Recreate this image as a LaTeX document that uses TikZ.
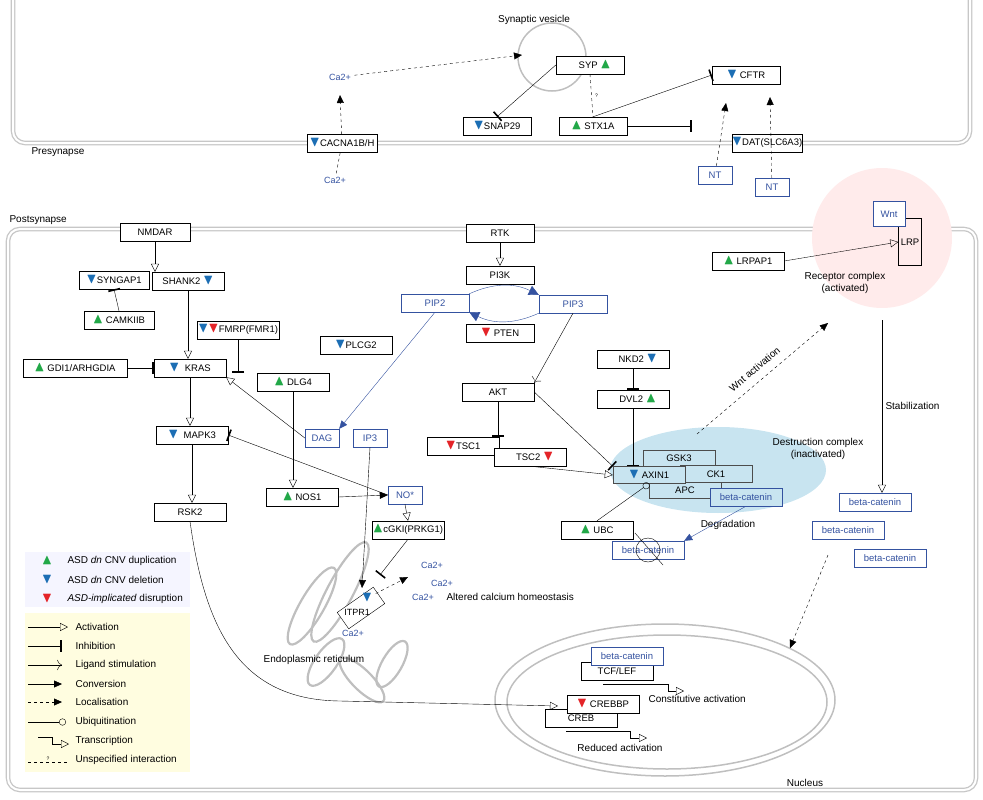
\documentclass[tikz,border=0pt]{standalone}
\usepackage{amsmath,amssymb}
\usepackage{fontspec}
\setmainfont{Liberation Sans}
\usetikzlibrary{arrows.meta,positioning,calc,shapes.geometric}
\definecolor{asdgreen}{RGB}{34,168,72}
\definecolor{asdblue}{RGB}{28,110,180}
\definecolor{asdred}{RGB}{228,36,40}
\definecolor{molblue}{RGB}{52,82,160}
\definecolor{dcblue}{RGB}{200,228,240}
\newcommand\gup{\textcolor{asdgreen}{\Large$\blacktriangle$}}
\newcommand\gdn{\textcolor{asdblue}{\Large$\blacktriangledown$}}
\newcommand\grd{\textcolor{asdred}{\Large$\blacktriangledown$}}
\tikzset{
  gene/.style={draw,fill=white,minimum width=72,minimum height=18,inner sep=1pt,font=\fontsize{9.5}{10}\selectfont},
  mol/.style={gene,draw=molblue,text=molblue,minimum width=34},
  lbl/.style={font=\fontsize{10}{12}\selectfont,align=center},
  ion/.style={text=molblue,font=\fontsize{9}{10}\selectfont},
  membrane/.style={draw=black!22,double=white,double distance=2pt,line width=1.3pt,rounded corners=12},
  act/.style={-{Triangle[open,length=8pt,width=8pt]}},
  inh/.style={-{Bar[width=12pt,line width=1.6pt]}},
  lig/.style={-{To[length=5pt]}},
  conv/.style={-{Triangle[length=8pt,width=7pt]}},
  loc/.style={dashed,-{Triangle[length=8pt,width=7pt]}},
  ubi/.style={-{Circle[open,length=7pt]}},
  er/.style={draw=black!25,line width=2.2pt},
}
\begin{document}
\begin{tikzpicture}[x=1pt,y=-1pt]
        \useasboundingbox (0,0) rectangle (983,800);
        % Membranes
        \draw[membrane] (13,-5) -- (13,143) -- (970,143) -- (970,-5);
        \draw[membrane] (8,229) rectangle (976,790);
        \node[lbl,anchor=west] at (28,152) {Presynapse};
        \node[lbl,anchor=west] at (6,220) {Postsynapse};

        % Legend
        \fill[blue!4] (25,552) rectangle (190,607);
        \fill[yellow!12] (25,613) rectangle (190,772);
        \node[lbl,anchor=west] (lg1) at (64,561) {ASD \textit{dn} CNV duplication};
        \node[lbl,anchor=west] (lg2) at (64,580) {ASD \textit{dn} CNV deletion};
        \node[lbl,anchor=west] (lg3) at (64,599) {\textit{ASD-implicated} disruption};
        \node at (47,561) {\gup};
        \node at (47,580) {\gdn};
        \node at (47,599) {\grd};
        \foreach \y/\t in {627/Activation,646/Inhibition,665/Ligand stimulation,684/Conversion,702/Localisation,722/Ubiquitination,741/Transcription,760/Unspecified interaction}
          \node[lbl,anchor=west] at (72,\y) {\t};
        \coordinate (la1) at (28,627); \coordinate (lb1) at (68,627);
        \coordinate (la2) at (28,646); \coordinate (lb2) at (62,646);
        \coordinate (la3) at (28,665); \coordinate (lb3) at (62,665);
        \coordinate (la4) at (28,684); \coordinate (lb4) at (62,684);
        \coordinate (la5) at (28,702); \coordinate (lb5) at (62,702);
        \coordinate (la6) at (28,722); \coordinate (lb6) at (66,722);
        \draw[act] (la1) -- (lb1);
        \draw[inh] (la2) -- (lb2);
        \draw[lig] (la3) -- (lb3);
        \draw[conv] (la4) -- (lb4);
        \draw[loc] (la5) -- (lb5);
        \draw[ubi] (la6) -- (lb6);
        \draw[act] (38,737) -- (52,737) -- (52,744) -- (69,744);
        \draw[dashed] (28,762) -- (68,762) node[midway,above=-2pt,font=\tiny] {?};

        % Presynapse
        \draw[draw=black!25,line width=1.5pt] (552,57) circle (34);
        \node[lbl] (sv) at (534,20) {Synaptic vesicle};
        \node[gene,minimum width=70] (cacna) at (342,143) {\gdn CACNA1B/H};
        \node[ion] (ca1) at (340,77) {Ca2+};
        \node[ion] (ca0) at (335,180) {Ca2+};
        \coordinate (cau) at (340,95);
        \coordinate (svin) at (522,55);
        \node[gene,minimum width=68] (syp) at (590,65) {\quad SYP \gup};
        \node[gene,minimum width=68] (snap) at (497,126) {\gdn SNAP29};
        \node[gene,minimum width=68] (stx) at (593,126) {\gup\ STX1A\quad};
        \node[gene,minimum width=68] (cftr) at (746,75) {\gdn\ CFTR\quad};
        \node[gene,minimum width=68,inner sep=0pt] (dat) at (767,143) {\gdn DAT(SLC6A3)};
        \node[mol] (nt1) at (715,175) {NT};
        \node[mol] (nt2) at (772,187) {NT};
        \coordinate (nt1e) at (726,103);
        \coordinate (nt2e) at (770,97);
        \coordinate (datbar) at (692,126);
        \draw[dashed] (ca0) -- (cacna);
        \draw[loc] (cacna) -- (cau);
        \draw[loc] (ca1) -- (svin);
        \draw[inh] (syp.west) -- (snap.north);
        \draw[dashed] (syp.south) -- (stx.north) node[midway,right,font=\tiny] {?};
        \draw[inh] (stx.north) -- (cftr.west);
        \draw[inh] (stx.east) -- (datbar);
        \draw[loc] (nt1) -- (nt1e);
        \draw[loc] (nt2) -- (nt2e);

        % Wnt receptor complex
        \fill[red!8] (882,238) circle (70);
        \node[gene,fill=none,minimum width=23,minimum height=47] (lrp) at (910,242) {LRP};
        \node[mol,minimum width=32,minimum height=25,fill=white] (wnt) at (889,214) {Wnt};
        \node[gene] (lrpap) at (748,261) {\gup\ LRPAP1};
        \node[lbl] (rc) at (845,283) {Receptor complex\\(activated)};
        \draw[act] (lrpap.east) -- (lrp.west);

        % Postsynapse nodes
        \node[gene,minimum width=70] (nmdar) at (155,232) {NMDAR};
        \node[gene,minimum width=70] (syngap) at (114,280) {\gdn SYNGAP1};
        \node[gene] (shank) at (188,281) {SHANK2 \gdn};
        \node[gene,minimum width=70] (camk) at (119,320) {\gup\ CAMKIIB};
        \node[gene,minimum width=104] (gdi) at (75,368) {\gup\ GDI1/ARHGDIA};
        \node[gene] (kras) at (190,368) {\gdn\ \ KRAS};
        \node[gene,minimum width=80] (fmrp) at (238,330) {\gdn\grd FMRP(FMR1)};
        \node[gene] (dlg4) at (293,382) {\gup\ DLG4};
        \node[gene] (plcg) at (356,345) {\gdn PLCG2};
        \node[gene] (mapk) at (192,435) {\gdn\ \ MAPK3};
        \node[gene] (rsk) at (190,512) {RSK2};
        \node[gene] (nos) at (302,497) {\gup\ NOS1};
        \node[mol] (no) at (405,495) {NO*};
        \node[gene,inner sep=0pt] (cgki) at (408,530) {\gup cGKI(PRKG1)};
        \node[mol] (dag) at (322,438) {DAG};
        \node[mol] (ip3) at (370,438) {IP3};
        \node[gene,minimum width=68] (rtk) at (500,233) {RTK};
        \node[gene,minimum width=68] (pi3k) at (500,275) {PI3K};
        \node[mol,minimum width=68] (pip2) at (435,303) {PIP2};
        \node[mol,minimum width=68] (pip3) at (573,304) {PIP3};
        \node[gene,minimum width=68] (pten) at (500,333) {\grd\ PTEN};
        \node[gene] (akt) at (498,392) {AKT};
        \node[gene] (tsc1) at (463,446) {\grd TSC1\quad};
        \node[gene] (tsc2) at (530,457) {\quad TSC2 \grd};
        \node[gene] (nkd) at (633,359) {\quad NKD2 \gdn};
        \node[gene] (dvl) at (633,399) {\quad DVL2 \gup};

        % Destruction complex
        \fill[dcblue] (718,470) ellipse (108 and 43);
        \node[gene,fill=dcblue,draw=black!70,minimum width=72,minimum height=16] (gsk) at (679,458) {GSK3};
        \node[gene,fill=dcblue,draw=black!70,minimum width=72,minimum height=16] (apc) at (685,490) {APC};
        \node[gene,fill=dcblue,draw=black!70,minimum width=72,minimum height=17] (ck1) at (716,474) {CK1};
        \node[gene,fill=dcblue,draw=black!70,minimum width=72,minimum height=17] (axin) at (649,475) {\gdn\ AXIN1};
        \node[mol,fill=dcblue,minimum width=72] (bcdc) at (746,497) {beta-catenin};
        \node[lbl] (dclbl) at (818,449) {Destruction complex\\(inactivated)};
        \node[gene] (ubc) at (597,530) {\gup\ UBC};
        \node[mol,minimum width=72] (bcdeg) at (648,550) {beta-catenin};
        \draw (bcdeg) circle (12);
        \draw (635,533) -- (663,565);
        \node[lbl] (deglbl) at (728,525) {Degradation};

        % Postsynapse connectors
        \draw[act] (nmdar.south) -- (shank.north -| nmdar.south);
        \draw[inh] (camk.north) -- (syngap.south);
        \draw[act] (shank.south) -- (kras.north -| shank.south);
        \draw[inh] (gdi.east) -- (kras.west);
        \draw[act] (kras.south) -- (mapk.north -| kras.south);
        \draw[act] (mapk.south) -- (rsk.north -| mapk.south);
        \draw[inh] (fmrp.south) -- (dlg4.north -| fmrp.south);
        \draw[act] (dlg4.south) -- (nos.north -| dlg4.south);
        \draw[conv] (nos.east) -- (no.west);
        \draw[act] (no.south) -- (cgki.north);
        \draw[inh] (no.west) -- (mapk.east);
        \draw[act] (dag.west) -- (kras.south east);
        \draw[draw=molblue,conv] (pip2.south) -- (dag.north east);
        \draw[act] (rtk.south) -- (pi3k.north);
        \draw[draw=molblue,-{Triangle[length=10pt,width=10pt]}] (pip2.north east) to[bend left=25] (pip3.north west);
        \draw[draw=molblue,-{Triangle[length=10pt,width=10pt]}] (pip3.south west) to[bend left=25] (pip2.south east);
        \draw[lig] (pip3.south) -- (akt.north east);
        \draw[inh] (akt.south) -- (tsc1.north -| akt.south);
        \draw[inh] (akt.east) -- (axin.north west);
        \draw[act] (tsc2.south) -- (axin.west);
        \draw[inh] (nkd.south) -- (dvl.north);
        \draw[inh] (dvl.south) -- (axin.north -| dvl.south);
        \draw[ubi] (ubc.north) -- (axin.south);
        \draw[draw=molblue,conv] (bcdc.south) -- (bcdeg.north east);

        % Wnt activation and stabilization
        \coordinate (wnte) at (828,323);
        \coordinate (wnts) at (697,434);
        \draw[loc] (wnts) -- (wnte) node[midway,sloped,above=5pt,lbl] {Wnt activation};
        \coordinate (stb) at (882,320);
        \node[mol,minimum width=72] (bc1) at (875,502) {beta-catenin};
        \node[mol,minimum width=72] (bc2) at (848,530) {beta-catenin};
        \node[mol,minimum width=72] (bc3) at (890,558) {beta-catenin};
        \draw[act] (stb) -- (bc1.north -| stb) node[midway,right,lbl] {Stabilization};

        % ER
        \draw[er,rotate around={62:(340,592)}] (340,592) ellipse (56 and 13);
        \draw[er,rotate around={60:(312,606)}] (312,606) ellipse (44 and 12);
        \draw[er,rotate around={55:(326,662)}] (326,662) ellipse (28 and 11);
        \draw[er,rotate around={-45:(362,680)}] (362,680) ellipse (30 and 10);
        \draw[er,rotate around={60:(392,664)}] (392,664) ellipse (26 and 10);
        \node[lbl] (erlbl) at (314,660) {Endoplasmic reticulum};
        \node[gene,rotate=35,minimum width=44,minimum height=20] (itpr) at (361,608) {};
        \node[font=\fontsize{9}{9}\selectfont] (itprt) at (357,612) {ITPR1};
        \node (itprm) at (367,598) {\gdn};
        \node[ion] (ca2) at (432,565) {Ca2+};
        \node[ion] (ca3) at (442,583) {Ca2+};
        \node[ion] (ca4) at (423,597) {Ca2+};
        \node[ion] (ca5) at (353,633) {Ca2+};
        \node[lbl,anchor=west] (acl) at (443,597) {Altered calcium homeostasis};
        \coordinate (itpre) at (408,577);
        \coordinate (itprin) at (362,588);
        \coordinate (itprbar) at (380,575);
        \draw[conv] (ip3.south) -- (itprin);
        \draw[inh] (cgki.south) -- (itprbar);
        \draw[loc] (itprm) -- (itpre);

        % Nucleus
        \draw[draw=black!25,line width=1.5pt] (665,700) ellipse (170 and 76);
        \draw[draw=black!25,line width=1.5pt] (667,702) ellipse (160 and 67);
        \node[lbl] (nuc) at (805,783) {Nucleus};
        \node[gene] (tcf) at (617,671) {TCF/LEF};
        \node[mol,minimum width=72] (bcn) at (627,656) {beta-catenin};
        \coordinate (bcin) at (790,648);
        \draw[loc] (828,555) -- (bcin);
        \draw[act] (603,684) -- (668,684) -- (668,691) -- (684,691);
        \node[lbl,anchor=west] (cal) at (645,699) {Constitutive activation};
        \node[gene] (creb) at (581,718) {CREB};
        \node[gene] (crebbp) at (603,704) {\grd\ CREBBP};
        \draw[act] (566,731) -- (630,731) -- (630,738) -- (647,738);
        \node[lbl] (ral) at (620,748) {Reduced activation};
        \coordinate (crebin) at (558,706);
        \draw[act] (rsk.south) .. controls (205,630) and (240,700) .. (340,701) -- (crebin);
    \end{tikzpicture}
\end{document}
